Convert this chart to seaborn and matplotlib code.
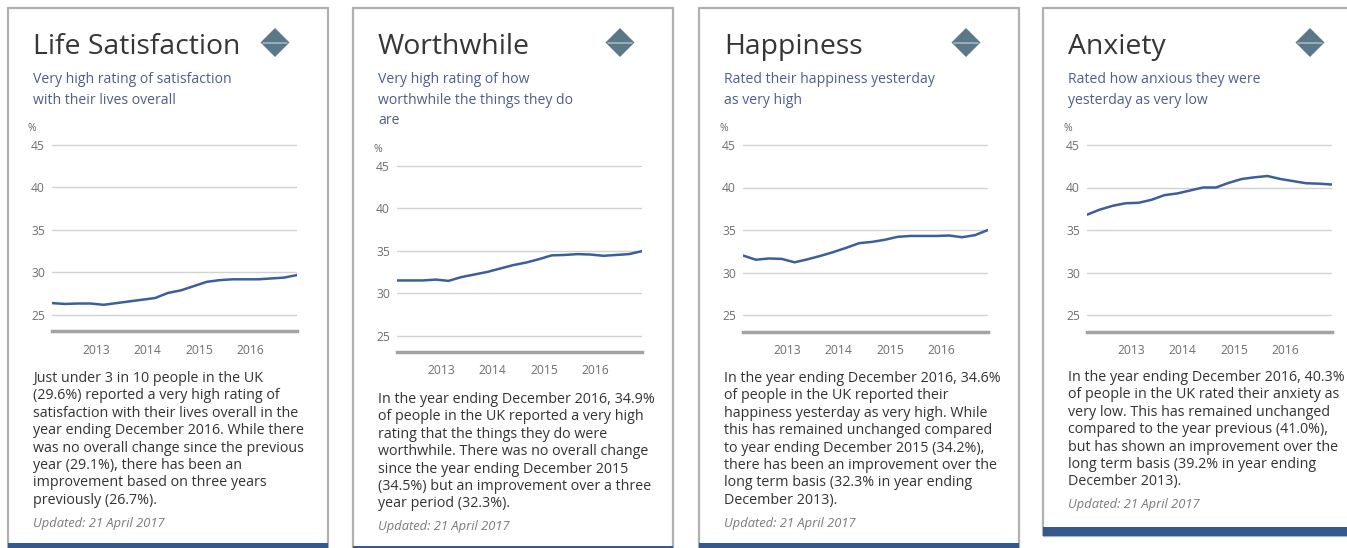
import pandas as pd
import seaborn as sns
import matplotlib.pyplot as plt
from matplotlib.patches import Rectangle, Polygon
from matplotlib.lines import Line2D

# year ending (rolling annual estimates), quarterly
months = [3, 6, 9, 12]
periods = [(y, m) for y in range(2012, 2017) for m in months]

life_satisfaction = [26.4, 26.3, 26.35, 26.35, 26.2, 26.4, 26.6, 26.8, 27.0, 27.6,
                     27.9, 28.4, 28.9, 29.1, 29.2, 29.2, 29.2, 29.3, 29.4, 29.7]
worthwhile = [31.5, 31.5, 31.5, 31.6, 31.45, 31.9, 32.2, 32.5, 32.9, 33.3,
              33.6, 34.0, 34.45, 34.5, 34.6, 34.55, 34.4, 34.5, 34.6, 34.95]
happiness = [32.0, 31.5, 31.65, 31.6, 31.2, 31.55, 31.95, 32.4, 32.9, 33.45,
             33.6, 33.85, 34.2, 34.3, 34.3, 34.3, 34.35, 34.15, 34.4, 35.0]
anxiety = [36.8, 37.4, 37.85, 38.15, 38.2, 38.55, 39.1, 39.3, 39.65, 40.0,
           40.0, 40.55, 41.0, 41.2, 41.35, 41.0, 40.75, 40.5, 40.45, 40.35]

year_ticks = [2013, 2014, 2015, 2016]
y_ticks = [25, 30, 35, 40, 45]

titles = ["Life Satisfaction", "Worthwhile", "Happiness", "Anxiety"]
subtitles = [
    ["Very high rating of satisfaction", "with their lives overall"],
    ["Very high rating of how", "worthwhile the things they do", "are"],
    ["Rated their happiness yesterday", "as very high"],
    ["Rated how anxious they were", "yesterday as very low"],
]
bodies = [
    ["Just under 3 in 10 people in the UK",
     "(29.6%) reported a very high rating of",
     "satisfaction with their lives overall in the",
     "year ending December 2016. While there",
     "was no overall change since the previous",
     "year (29.1%), there has been an",
     "improvement based on three years",
     "previously (26.7%)."],
    ["In the year ending December 2016, 34.9%",
     "of people in the UK reported a very high",
     "rating that the things they do were",
     "worthwhile. There was no overall change",
     "since the year ending December 2015",
     "(34.5%) but an improvement over a three",
     "year period (32.3%)."],
    ["In the year ending December 2016, 34.6%",
     "of people in the UK reported their",
     "happiness yesterday as very high. While",
     "this has remained unchanged compared",
     "to year ending December 2015 (34.2%),",
     "there has been an improvement over the",
     "long term basis (32.3% in year ending",
     "December 2013)."],
    ["In the year ending December 2016, 40.3%",
     "of people in the UK rated their anxiety as",
     "very low. This has remained unchanged",
     "compared to the year previous (41.0%),",
     "but has shown an improvement over the",
     "long term basis (39.2% in year ending",
     "December 2013)."],
]
updated = "Updated: 21 April 2017"
series = [life_satisfaction, worthwhile, happiness, anxiety]

W, H = 1347, 548
sns.set_style("white")
plt.rcParams["font.family"] = ["Open Sans", "DejaVu Sans"]

fig = plt.figure(figsize=(W / 100, H / 100), dpi=100)

# panel geometry in pixels: left edge, y of 45 line, y of 25 line, y of axis, body baseline, bottom bar
panels = [
    dict(left=8, y45=145, y25=315, yax=331, body=382, bar=(543, 560), sub=83),
    dict(left=353, y45=165.7, y25=335.7, yax=351.7, body=403, bar=(546, 560), sub=83),
    dict(left=699, y45=145, y25=315, yax=331.5, body=382, bar=(543, 560), sub=83),
    dict(left=1043, y45=145, y25=315, yax=331.5, body=381, bar=(527, 536), sub=83),
]
PW = 320
line_col = "#3c5f9b"
text_col = "#333333"
sub_col = "#4f5d8e"
grey = "#6e6e6e"


def fx(x):
    return x / W


def fy(y):
    return 1 - y / H


for p, title, sub, body, vals in zip(panels, titles, subtitles, bodies, series):
    L = p["left"]
    bar_top, bar_bot = p["bar"]
    # card border
    fig.patches.append(Rectangle((fx(L), fy(bar_bot)), PW / W, (bar_bot - 8) / H,
                                 transform=fig.transFigure, fill=False,
                                 edgecolor="#b0b0b0", lw=1.6, zorder=0))
    fig.patches.append(Rectangle((fx(L), fy(bar_bot)), PW / W, (bar_bot - bar_top) / H,
                                 transform=fig.transFigure, facecolor="#35588f",
                                 edgecolor="none", zorder=1))
    # diamond icon
    cx, cy, r = L + 267, 42.5, 14.5
    fig.patches.append(Polygon([(fx(cx - r), fy(cy)), (fx(cx), fy(cy - r)),
                                (fx(cx + r), fy(cy)), (fx(cx), fy(cy + r))],
                               closed=True, transform=fig.transFigure,
                               facecolor="#5a7888", edgecolor="none"))
    fig.lines.append(Line2D([fx(cx - r + 2.5), fx(cx + r - 2.5)], [fy(cy), fy(cy)],
                            transform=fig.transFigure, color="#a9bcc5", lw=1.1))

    fig.text(fx(L + 25), fy(54), title, fontsize=20.4, color="#363636", va="baseline")
    for i, s in enumerate(sub):
        fig.text(fx(L + 25), fy(p["sub"] + 20.5 * i), s, fontsize=10.1,
                 color=sub_col, va="baseline")
    for i, s in enumerate(body):
        fig.text(fx(L + 25), fy(p["body"] + 17.4 * i), s, fontsize=10.25,
                 color=text_col, va="baseline")
    last = p["body"] + 17.4 * (len(body) - 1)
    fig.text(fx(L + 25), fy(last + 23), updated, fontsize=9.3, style="italic",
             color="#7a7a7a", va="baseline")
    fig.text(fx(L + 20), fy(p["y45"] - 14), "%", fontsize=7.5, color=grey,
             va="baseline")

    # chart
    ppu = (p["y25"] - p["y45"]) / 20
    ylo = 25 - (p["yax"] - p["y25"]) / ppu
    yhi = 45.4
    top_px = p["y45"] - 0.4 * ppu
    ax = fig.add_axes([fx(L + 44), fy(p["yax"]), 245 / W, (p["yax"] - top_px) / H])
    df = pd.DataFrame({
        "when": [y + m / 12 for y, m in periods],
        "pct": vals,
    })
    sns.lineplot(data=df, x="when", y="pct", ax=ax, color=line_col, lw=1.8)
    ax.set_xlim(2012.25, 2017.0)
    ax.set_ylim(ylo, yhi)
    ax.set_yticks(y_ticks)
    # labels sit just after the start of each year
    ax.set_xticks([y + 0.1 for y in year_ticks])
    ax.set_xticklabels([str(y) for y in year_ticks])
    ax.set_xlabel("")
    ax.set_ylabel("")
    ax.yaxis.grid(True, color="#d2d2d2", lw=1)
    for s in ["top", "left", "right"]:
        ax.spines[s].set_visible(False)
    ax.spines["bottom"].set_color("#a3a3a3")
    ax.spines["bottom"].set_linewidth(2.5)
    ax.tick_params(axis="x", length=4, width=1, color="#a3a3a3", pad=5,
                   labelsize=8.7, labelcolor=grey)
    ax.tick_params(axis="y", length=0, pad=5, labelsize=8.7, labelcolor=grey)
    ax.patch.set_alpha(0)

fig.savefig("out.png", dpi=100)
